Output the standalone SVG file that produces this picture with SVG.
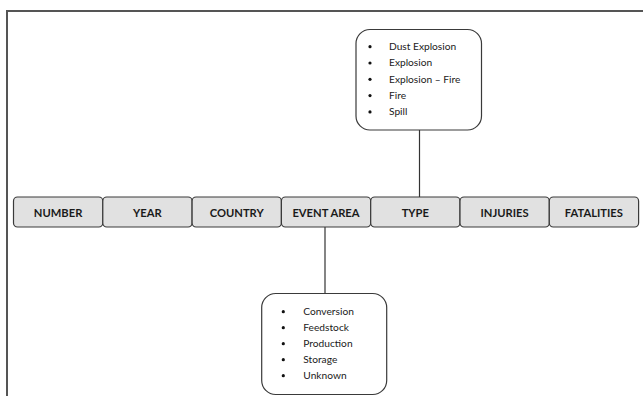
<svg xmlns="http://www.w3.org/2000/svg" width="643" height="396" viewBox="0 0 643 396">
<style>
.frame{fill:none;stroke:#555;stroke-width:2}
.hdr rect{fill:#e1e1e1;stroke:#3a3a3a;stroke-width:1.2}
.hdr text{font-family:Lato,"Open Sans",sans-serif;font-weight:bold;font-size:11.2px;fill:#1a1a1a;text-anchor:middle}
.list rect{fill:#fff;stroke:#3a3a3a;stroke-width:1.2}
.list text{font-family:Lato,"Open Sans",sans-serif;font-size:10.2px;fill:#1a1a1a}
.list circle{fill:#111}
.conn line{stroke:#333;stroke-width:1.2}
</style>
<polyline class="frame" points="643,11 7,11 7,396"/>
<g class="conn">
<line x1="419.5" y1="130" x2="419.5" y2="197"/>
<line x1="325" y1="227" x2="325" y2="293.5"/>
</g>
<g id="n-number" class="hdr"><rect x="13.5" y="197" width="89.3" height="30" rx="4"/><text x="58.1" y="216.7">NUMBER</text></g>
<g id="n-year" class="hdr"><rect x="102.8" y="197" width="89.3" height="30" rx="4"/><text x="147.4" y="216.7">YEAR</text></g>
<g id="n-country" class="hdr"><rect x="192.1" y="197" width="89.3" height="30" rx="4"/><text x="236.7" y="216.7">COUNTRY</text></g>
<g id="n-eventarea" class="hdr"><rect x="281.4" y="197" width="89.3" height="30" rx="4"/><text x="326" y="216.7">EVENT AREA</text></g>
<g id="n-type" class="hdr"><rect x="370.7" y="197" width="89.3" height="30" rx="4"/><text x="415.3" y="216.7">TYPE</text></g>
<g id="n-injuries" class="hdr"><rect x="460" y="197" width="89.3" height="30" rx="4"/><text x="504.6" y="216.7">INJURIES</text></g>
<g id="n-fatalities" class="hdr"><rect x="549.3" y="197" width="89.3" height="30" rx="4"/><text x="593.9" y="216.7">FATALITIES</text></g>
<g id="n-typelist" class="list">
<rect x="356" y="29.5" width="125.5" height="100.5" rx="14"/>
<circle cx="370" cy="46.7" r="1.6"/><text x="389" y="50">Dust Explosion</text>
<circle cx="370" cy="63" r="1.6"/><text x="389" y="66.3">Explosion</text>
<circle cx="370" cy="79.3" r="1.6"/><text x="389" y="82.6">Explosion – Fire</text>
<circle cx="370" cy="95.6" r="1.6"/><text x="389" y="98.9">Fire</text>
<circle cx="370" cy="111.9" r="1.6"/><text x="389" y="115.2">Spill</text>
</g>
<g id="n-arealist" class="list">
<rect x="261.7" y="293.5" width="125" height="101" rx="14"/>
<circle cx="283.3" cy="311.7" r="1.6"/><text x="303.3" y="315">Conversion</text>
<circle cx="283.3" cy="327.7" r="1.6"/><text x="303.3" y="331">Feedstock</text>
<circle cx="283.3" cy="343.7" r="1.6"/><text x="303.3" y="347">Production</text>
<circle cx="283.3" cy="359.7" r="1.6"/><text x="303.3" y="363">Storage</text>
<circle cx="283.3" cy="375.7" r="1.6"/><text x="303.3" y="379">Unknown</text>
</g>
</svg>
